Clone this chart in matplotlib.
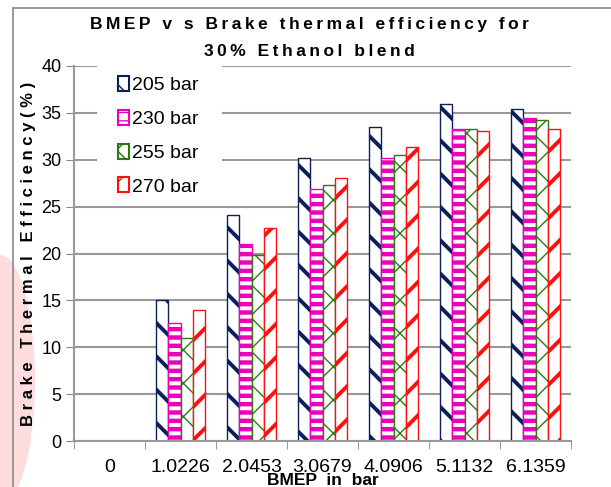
import numpy as np
import matplotlib.pyplot as plt
from matplotlib.patches import Rectangle, Patch, Ellipse

plt.rcParams['font.family'] = ['Liberation Sans', 'DejaVu Sans']

# BMEP categories (bar)
bmep = ['0', '1.0226', '2.0453', '3.0679', '4.0906', '5.1132', '6.1359']
# brake thermal efficiency (%) per injection pressure
p205 = [0, 15.0, 24.1, 30.2, 33.5, 35.9, 35.4]
p230 = [0, 12.6, 21.0, 26.9, 30.2, 33.3, 34.5]
p255 = [0, 11.0, 19.8, 27.3, 30.5, 33.3, 34.2]
p270 = [0, 14.0, 22.7, 28.1, 31.4, 33.1, 33.3]

series = [('205 bar', p205, '#0a1f5c', '\\', 2.8),
          ('230 bar', p230, '#ee00bb', '--', 3.2),
          ('255 bar', p255, '#2a7a12', 'x', 1.0),
          ('270 bar', p270, '#ff1010', '/', 2.8)]

fig = plt.figure(figsize=(6.11, 4.87), dpi=100)

# faint pink watermark at the left edge
fig.patches.append(Ellipse((0, 1 - 380/487), 70/611, 250/487,
                           transform=fig.transFigure, facecolor='#fcdcdc',
                           edgecolor='none', zorder=-1))

ax = fig.add_axes([74/611, 1 - 441/487, (571 - 74)/611, (441 - 66)/487])
ax.patch.set_alpha(0)

x = np.arange(len(bmep))
w = 0.17
handles = []
for i, (lab, vals, col, hat, hlw) in enumerate(series):
    with plt.rc_context({'hatch.linewidth': hlw, 'hatch.color': col}):
        bars = ax.bar(x + (i - 1.5) * w, vals, w, facecolor='white',
                      edgecolor=col, hatch=hat, linewidth=1.0, zorder=3)
        for b, v in zip(bars, vals):
            if v == 0:
                b.set_visible(False)
        handles.append(Patch(facecolor='white', edgecolor=col, hatch=hat,
                             linewidth=1.5, label=lab))

ax.set_ylim(0, 40)
ax.set_xlim(-0.5, len(bmep) - 0.5)
ax.set_yticks(range(0, 41, 5))
ax.set_xticks(x)
ax.set_xticklabels(bmep, fontsize=14)
ax.set_xticks(np.arange(-0.5, len(bmep)), minor=True)
ax.tick_params(axis='x', which='major', length=0, pad=13)
ax.tick_params(axis='x', which='minor', length=6, color='#888888')
ax.tick_params(axis='y', labelsize=13, length=6, color='#888888', pad=3)
ax.yaxis.grid(True, color='#999999', linewidth=1.5, zorder=0)
ax.set_axisbelow(True)
for s in ['top', 'right']:
    ax.spines[s].set_visible(False)
for s in ['left', 'bottom']:
    ax.spines[s].set_color('#999999')
    ax.spines[s].set_linewidth(1.5)
    ax.spines[s].set_zorder(5)

ax.set_ylabel('B r a k e   T h e r m a l   E f f i c i e n c y ( % )',
              fontsize=12, fontweight='bold', labelpad=4)
ax.set_xlabel('BMEP  in  bar', fontsize=12.5, fontweight='bold', labelpad=-2)

sp = '\u2009'
t1 = 'BMEP v s Brake thermal efficiency for'
t2 = '30% Ethanol blend'
fig.text(0.507, 1 - 25/487, sp.join(t1), ha='center', va='center',
         fontsize=12.5, fontweight='bold')
fig.text(0.507, 1 - 52/487, sp.join(t2), ha='center', va='center',
         fontsize=12.5, fontweight='bold')

# white area behind the legend hides the gridlines
ax.add_patch(Rectangle((0.046, 0.63), 0.252, 0.39, transform=ax.transAxes,
                       facecolor='white', edgecolor='none', zorder=2,
                       clip_on=False))
leg = ax.legend(handles=handles, loc='upper left', bbox_to_anchor=(0.045, 1.03),
                frameon=False, fontsize=14, handlelength=0.6, handleheight=0.8,
                handletextpad=0.15, labelspacing=0.8, borderpad=0.6)
leg.set_zorder(6)

fig.patches.append(Rectangle((13/611, -0.1), 1.2, 1 - 8/487 + 0.1,
                             transform=fig.transFigure, fill=False,
                             edgecolor='#888888', linewidth=1.2))

fig.savefig('out.png', dpi=100)
